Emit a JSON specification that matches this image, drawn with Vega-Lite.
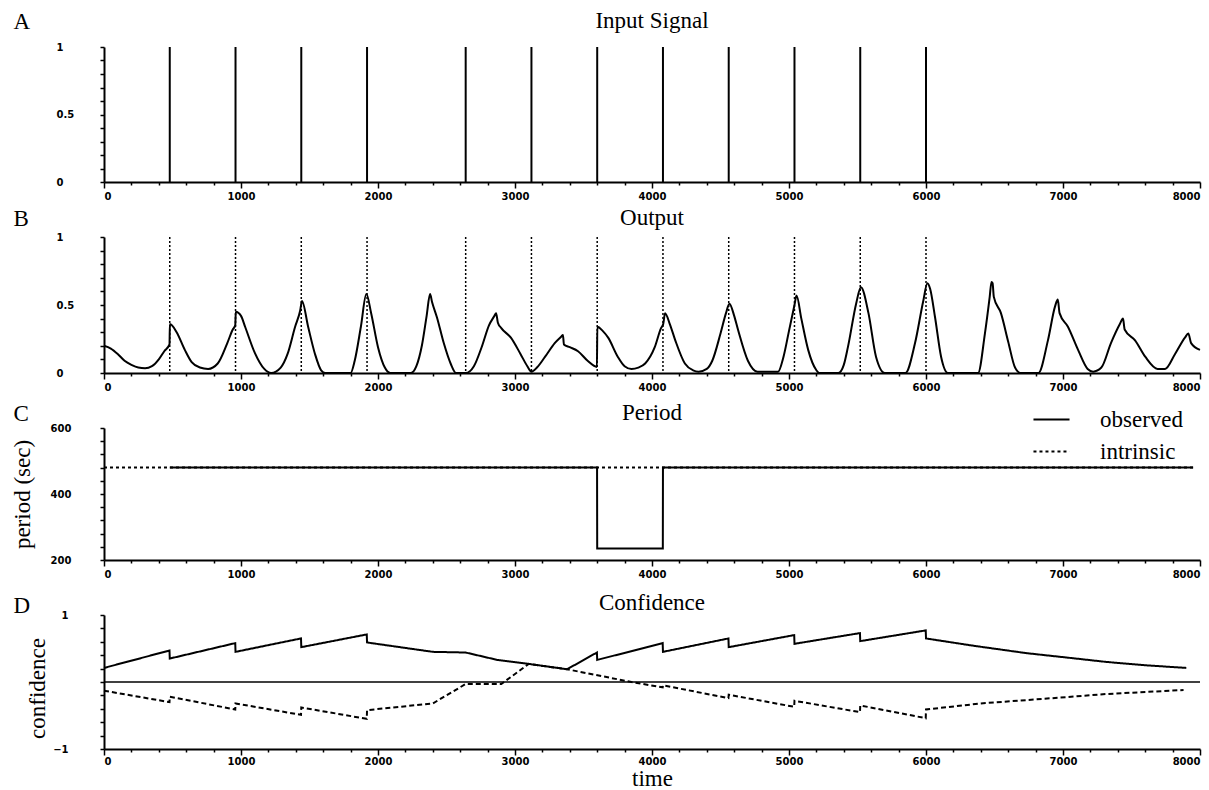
{
  "$schema": "https://vega.github.io/schema/vega-lite/v6.json",
  "background": "white",
  "padding": {"left": 11, "top": 10, "right": 5, "bottom": 0},
  "config": {
    "view": {"stroke": null},
    "axis": {
      "domainColor": "black", "domainWidth": 2, "tickColor": "black", "tickWidth": 1.5,
      "labelColor": "black", "labelFont": "DejaVu Sans", "labelFontSize": 10, "labelFontWeight": "bold",
      "titleFont": "Liberation Serif", "titleFontSize": 23, "titleFontWeight": "normal", "titleColor": "black",
      "grid": false
    },
    "title": {"font": "Liberation Serif", "fontSize": 23, "fontWeight": "normal", "color": "black", "anchor": "middle", "frame": "group", "baseline": "alphabetic"}
  },
  "datasets": {
    "input": [
      {"t": 480, "v": 1}, {"t": 960, "v": 1}, {"t": 1440, "v": 1}, {"t": 1920, "v": 1},
      {"t": 2640, "v": 1}, {"t": 3120, "v": 1}, {"t": 3600, "v": 1}, {"t": 4080, "v": 1},
      {"t": 4560, "v": 1}, {"t": 5040, "v": 1}, {"t": 5520, "v": 1}, {"t": 6000, "v": 1}
    ],
    "output": [
      {"t": 0, "v": 0.2}, {"t": 50, "v": 0.18}, {"t": 100, "v": 0.14}, {"t": 150, "v": 0.09}, {"t": 200, "v": 0.06},
      {"t": 250, "v": 0.04}, {"t": 300, "v": 0.035}, {"t": 350, "v": 0.05}, {"t": 400, "v": 0.1}, {"t": 440, "v": 0.16},
      {"t": 478, "v": 0.21}, {"t": 481, "v": 0.36}, {"t": 530, "v": 0.3}, {"t": 590, "v": 0.17}, {"t": 640, "v": 0.08},
      {"t": 700, "v": 0.04}, {"t": 760, "v": 0.03}, {"t": 830, "v": 0.07}, {"t": 900, "v": 0.22}, {"t": 940, "v": 0.32},
      {"t": 958, "v": 0.35}, {"t": 962, "v": 0.45}, {"t": 1000, "v": 0.42}, {"t": 1030, "v": 0.34}, {"t": 1100, "v": 0.15},
      {"t": 1170, "v": 0.03}, {"t": 1220, "v": 0.0}, {"t": 1290, "v": 0.04}, {"t": 1340, "v": 0.14}, {"t": 1395, "v": 0.34},
      {"t": 1432, "v": 0.46}, {"t": 1445, "v": 0.53}, {"t": 1490, "v": 0.34}, {"t": 1540, "v": 0.14}, {"t": 1585, "v": 0.02},
      {"t": 1615, "v": 0.0}, {"t": 1800, "v": 0.0}, {"t": 1830, "v": 0.09}, {"t": 1875, "v": 0.34}, {"t": 1915, "v": 0.58},
      {"t": 1950, "v": 0.44}, {"t": 2000, "v": 0.19}, {"t": 2050, "v": 0.04}, {"t": 2090, "v": 0.0}, {"t": 2240, "v": 0.0},
      {"t": 2280, "v": 0.05}, {"t": 2320, "v": 0.2}, {"t": 2355, "v": 0.42}, {"t": 2380, "v": 0.58}, {"t": 2395, "v": 0.52},
      {"t": 2430, "v": 0.41}, {"t": 2480, "v": 0.22}, {"t": 2530, "v": 0.07}, {"t": 2570, "v": 0.0}, {"t": 2640, "v": 0.0},
      {"t": 2700, "v": 0.05}, {"t": 2760, "v": 0.2}, {"t": 2810, "v": 0.35}, {"t": 2850, "v": 0.42}, {"t": 2862, "v": 0.44},
      {"t": 2875, "v": 0.37}, {"t": 2900, "v": 0.33}, {"t": 2970, "v": 0.26}, {"t": 3040, "v": 0.14}, {"t": 3090, "v": 0.05},
      {"t": 3120, "v": 0.01}, {"t": 3160, "v": 0.04}, {"t": 3220, "v": 0.12}, {"t": 3290, "v": 0.22}, {"t": 3340, "v": 0.27},
      {"t": 3350, "v": 0.28}, {"t": 3357, "v": 0.21}, {"t": 3400, "v": 0.19}, {"t": 3460, "v": 0.16}, {"t": 3530, "v": 0.09},
      {"t": 3598, "v": 0.045}, {"t": 3601, "v": 0.34}, {"t": 3640, "v": 0.31}, {"t": 3680, "v": 0.26}, {"t": 3750, "v": 0.12},
      {"t": 3800, "v": 0.05}, {"t": 3850, "v": 0.03}, {"t": 3900, "v": 0.04}, {"t": 3950, "v": 0.07}, {"t": 4020, "v": 0.19},
      {"t": 4066, "v": 0.33}, {"t": 4082, "v": 0.36}, {"t": 4095, "v": 0.44}, {"t": 4130, "v": 0.36}, {"t": 4170, "v": 0.24},
      {"t": 4240, "v": 0.07}, {"t": 4300, "v": 0.02}, {"t": 4340, "v": 0.01}, {"t": 4400, "v": 0.03}, {"t": 4440, "v": 0.09},
      {"t": 4500, "v": 0.29}, {"t": 4540, "v": 0.44}, {"t": 4565, "v": 0.51}, {"t": 4600, "v": 0.42}, {"t": 4630, "v": 0.31},
      {"t": 4700, "v": 0.09}, {"t": 4770, "v": 0.01}, {"t": 4920, "v": 0.01}, {"t": 4960, "v": 0.12}, {"t": 5000, "v": 0.31},
      {"t": 5040, "v": 0.5}, {"t": 5055, "v": 0.57}, {"t": 5090, "v": 0.4}, {"t": 5140, "v": 0.17}, {"t": 5200, "v": 0.02},
      {"t": 5220, "v": 0.0}, {"t": 5360, "v": 0.0}, {"t": 5400, "v": 0.06}, {"t": 5430, "v": 0.19}, {"t": 5490, "v": 0.51},
      {"t": 5525, "v": 0.63}, {"t": 5580, "v": 0.44}, {"t": 5635, "v": 0.12}, {"t": 5700, "v": 0.0}, {"t": 5850, "v": 0.0},
      {"t": 5920, "v": 0.22}, {"t": 5980, "v": 0.53}, {"t": 6010, "v": 0.66}, {"t": 6030, "v": 0.62}, {"t": 6066, "v": 0.41},
      {"t": 6110, "v": 0.12}, {"t": 6160, "v": 0.0}, {"t": 6380, "v": 0.0}, {"t": 6430, "v": 0.29}, {"t": 6465, "v": 0.56},
      {"t": 6478, "v": 0.67}, {"t": 6486, "v": 0.66}, {"t": 6495, "v": 0.56}, {"t": 6547, "v": 0.44}, {"t": 6600, "v": 0.23},
      {"t": 6650, "v": 0.04}, {"t": 6690, "v": 0.0}, {"t": 6820, "v": 0.0}, {"t": 6890, "v": 0.24}, {"t": 6942, "v": 0.49},
      {"t": 6962, "v": 0.54}, {"t": 6975, "v": 0.44}, {"t": 7036, "v": 0.34}, {"t": 7110, "v": 0.17}, {"t": 7180, "v": 0.03},
      {"t": 7220, "v": 0.01}, {"t": 7280, "v": 0.04}, {"t": 7350, "v": 0.22}, {"t": 7415, "v": 0.36}, {"t": 7438, "v": 0.4},
      {"t": 7450, "v": 0.32}, {"t": 7526, "v": 0.24}, {"t": 7600, "v": 0.12}, {"t": 7690, "v": 0.03}, {"t": 7745, "v": 0.03},
      {"t": 7818, "v": 0.14}, {"t": 7890, "v": 0.26}, {"t": 7915, "v": 0.29}, {"t": 7935, "v": 0.22}, {"t": 8000, "v": 0.17}
    ],
    "period": [
      {"t": 0, "p": 480, "series": "intrinsic"}, {"t": 7950, "p": 480, "series": "intrinsic"},
      {"t": 480, "p": 480, "series": "observed"}, {"t": 3599, "p": 480, "series": "observed"},
      {"t": 3600, "p": 235, "series": "observed"}, {"t": 4079, "p": 235, "series": "observed"},
      {"t": 4080, "p": 480, "series": "observed"}, {"t": 7950, "p": 480, "series": "observed"}
    ],
    "zero": [{"c": 0}],
    "confidence": [
      {"t": 0, "c": 0.21, "series": "observed"}, {"t": 478, "c": 0.47, "series": "observed"}, {"t": 480, "c": 0.35, "series": "observed"},
      {"t": 958, "c": 0.58, "series": "observed"}, {"t": 960, "c": 0.45, "series": "observed"}, {"t": 1438, "c": 0.65, "series": "observed"},
      {"t": 1440, "c": 0.52, "series": "observed"}, {"t": 1918, "c": 0.71, "series": "observed"}, {"t": 1920, "c": 0.59, "series": "observed"},
      {"t": 2400, "c": 0.45, "series": "observed"}, {"t": 2640, "c": 0.44, "series": "observed"}, {"t": 2870, "c": 0.33, "series": "observed"},
      {"t": 3100, "c": 0.27, "series": "observed"}, {"t": 3380, "c": 0.19, "series": "observed"}, {"t": 3598, "c": 0.44, "series": "observed"},
      {"t": 3600, "c": 0.33, "series": "observed"}, {"t": 4078, "c": 0.58, "series": "observed"}, {"t": 4080, "c": 0.45, "series": "observed"},
      {"t": 4558, "c": 0.65, "series": "observed"}, {"t": 4560, "c": 0.52, "series": "observed"}, {"t": 5038, "c": 0.7, "series": "observed"},
      {"t": 5040, "c": 0.57, "series": "observed"}, {"t": 5518, "c": 0.73, "series": "observed"}, {"t": 5520, "c": 0.61, "series": "observed"},
      {"t": 5998, "c": 0.77, "series": "observed"}, {"t": 6000, "c": 0.65, "series": "observed"}, {"t": 6350, "c": 0.54, "series": "observed"},
      {"t": 6736, "c": 0.43, "series": "observed"}, {"t": 7050, "c": 0.36, "series": "observed"}, {"t": 7314, "c": 0.3, "series": "observed"},
      {"t": 7600, "c": 0.25, "series": "observed"}, {"t": 7900, "c": 0.21, "series": "observed"},
      {"t": 0, "c": -0.13, "series": "intrinsic"}, {"t": 478, "c": -0.3, "series": "intrinsic"}, {"t": 480, "c": -0.22, "series": "intrinsic"},
      {"t": 958, "c": -0.41, "series": "intrinsic"}, {"t": 960, "c": -0.32, "series": "intrinsic"}, {"t": 1438, "c": -0.49, "series": "intrinsic"},
      {"t": 1440, "c": -0.38, "series": "intrinsic"}, {"t": 1918, "c": -0.55, "series": "intrinsic"}, {"t": 1920, "c": -0.42, "series": "intrinsic"},
      {"t": 2400, "c": -0.32, "series": "intrinsic"}, {"t": 2640, "c": -0.03, "series": "intrinsic"}, {"t": 2900, "c": -0.03, "series": "intrinsic"},
      {"t": 3100, "c": 0.27, "series": "intrinsic"}, {"t": 3380, "c": 0.19, "series": "intrinsic"}, {"t": 3850, "c": 0.0, "series": "intrinsic"},
      {"t": 4078, "c": -0.08, "series": "intrinsic"}, {"t": 4080, "c": -0.05, "series": "intrinsic"}, {"t": 4558, "c": -0.24, "series": "intrinsic"},
      {"t": 4560, "c": -0.19, "series": "intrinsic"}, {"t": 5038, "c": -0.37, "series": "intrinsic"}, {"t": 5040, "c": -0.28, "series": "intrinsic"},
      {"t": 5518, "c": -0.45, "series": "intrinsic"}, {"t": 5520, "c": -0.35, "series": "intrinsic"}, {"t": 5998, "c": -0.54, "series": "intrinsic"},
      {"t": 6000, "c": -0.41, "series": "intrinsic"}, {"t": 6400, "c": -0.32, "series": "intrinsic"}, {"t": 6736, "c": -0.27, "series": "intrinsic"},
      {"t": 7314, "c": -0.18, "series": "intrinsic"}, {"t": 7880, "c": -0.12, "series": "intrinsic"}
    ]
  },
  "bounds": "flush",
  "spacing": 55,
  "resolve": {"scale": {"strokeDash": "independent"}, "legend": {"strokeDash": "independent"}},
  "vconcat": [
    {
      "width": 1096, "height": 135,
      "title": {"text": "Input Signal", "offset": -23},
      "data": {"name": "input"},
      "mark": {"type": "rule", "color": "black", "strokeWidth": 2},
      "encoding": {
        "x": {"field": "t", "type": "quantitative", "scale": {"domain": [0, 8000], "nice": false, "zero": false},
          "axis": {"title": null, "values": [0,200,400,600,800,1000,1200,1400,1600,1800,2000,2200,2400,2600,2800,3000,3200,3400,3600,3800,4000,4200,4400,4600,4800,5000,5200,5400,5600,5800,6000,6200,6400,6600,6800,7000,7200,7400,7600,7800,8000],
            "format": "d", "labelExpr": "datum.value % 1000 === 0 ? datum.label : ''",
            "tickSize": {"condition": {"test": "datum.value % 1000 === 0", "value": 6}, "value": 3},
            "labelPadding": 3, "labelOverlap": false, "labelFlush": true}},
        "y": {"field": "v", "type": "quantitative", "scale": {"domain": [0, 1], "nice": false},
          "axis": {"values": [0,0.1,0.2,0.3,0.4,0.5,0.6,0.7,0.8,0.9,1], "format": "~g",
            "labelExpr": "datum.value === 0 || datum.value === 0.5 || datum.value === 1 ? datum.label : ''",
            "tickSize": 4, "labelAlign": "left", "labelPadding": 44, "labelOverlap": false,
            "title": "A", "titleAngle": 0, "titleAlign": "left", "titleBaseline": "alphabetic", "titleX": -91, "titleY": -19}},
        "y2": {"datum": 0}
      }
    },
    {
      "width": 1096, "height": 136,
      "title": {"text": "Output", "offset": -23},
      "encoding": {
        "x": {"field": "t", "type": "quantitative", "scale": {"domain": [0, 8000], "nice": false, "zero": false},
          "axis": {"values": [0,200,400,600,800,1000,1200,1400,1600,1800,2000,2200,2400,2600,2800,3000,3200,3400,3600,3800,4000,4200,4400,4600,4800,5000,5200,5400,5600,5800,6000,6200,6400,6600,6800,7000,7200,7400,7600,7800,8000],
            "format": "d", "labelExpr": "datum.value % 1000 === 0 ? datum.label : ''",
            "tickSize": {"condition": {"test": "datum.value % 1000 === 0", "value": 6}, "value": 3},
            "labelPadding": 3, "labelOverlap": false, "labelFlush": true,
            "title": "C", "titleAngle": 0, "titleAlign": "left", "titleBaseline": "alphabetic", "titleX": -91, "titleY": 47}},
        "y": {"field": "v", "type": "quantitative", "scale": {"domain": [0, 1], "nice": false},
          "axis": {"values": [0,0.1,0.2,0.3,0.4,0.5,0.6,0.7,0.8,0.9,1], "format": "~g",
            "labelExpr": "datum.value === 0 || datum.value === 0.5 || datum.value === 1 ? datum.label : ''",
            "tickSize": 4, "labelAlign": "left", "labelPadding": 44, "labelOverlap": false,
            "title": "B", "titleAngle": 0, "titleAlign": "left", "titleBaseline": "alphabetic", "titleX": -91, "titleY": -12}}
      },
      "layer": [
        {
          "data": {"name": "input"},
          "mark": {"type": "rule", "color": "black", "strokeWidth": 1.5, "strokeDash": [2, 2]},
          "encoding": {"y2": {"datum": 0}}
        },
        {
          "data": {"name": "output"},
          "mark": {"type": "line", "color": "black", "strokeWidth": 2, "interpolate": "monotone"}
        }
      ]
    },
    {
      "width": 1096, "height": 132,
      "title": {"text": "Period", "offset": -25},
      "data": {"name": "period"},
      "mark": {"type": "line", "color": "black", "strokeWidth": 2},
      "encoding": {
        "x": {"field": "t", "type": "quantitative", "scale": {"domain": [0, 8000], "nice": false, "zero": false},
          "axis": {"values": [0,200,400,600,800,1000,1200,1400,1600,1800,2000,2200,2400,2600,2800,3000,3200,3400,3600,3800,4000,4200,4400,4600,4800,5000,5200,5400,5600,5800,6000,6200,6400,6600,6800,7000,7200,7400,7600,7800,8000],
            "format": "d", "labelExpr": "datum.value % 1000 === 0 ? datum.label : ''",
            "tickSize": {"condition": {"test": "datum.value % 1000 === 0", "value": 6}, "value": 3},
            "labelPadding": 3, "labelOverlap": false, "labelFlush": true,
            "title": "D", "titleAngle": 0, "titleAlign": "left", "titleBaseline": "alphabetic", "titleX": -91, "titleY": 52}},
        "y": {"field": "p", "type": "quantitative", "scale": {"domain": [200, 600], "nice": false, "zero": false},
          "axis": {"values": [200,240,280,320,360,400,440,480,520,560,600], "format": "d",
            "labelExpr": "datum.value === 200 || datum.value === 400 || datum.value === 600 ? datum.label : ''",
            "tickSize": 4, "labelAlign": "left", "labelPadding": 50, "labelOverlap": false,
            "title": "period (sec)", "titleBaseline": "alphabetic", "titleX": -75}},
        "strokeDash": {"field": "series", "type": "nominal",
          "scale": {"domain": ["observed", "intrinsic"], "range": [[1, 0], [3, 3]]},
          "legend": {"orient": "none", "legendX": 928, "legendY": -28, "title": null, "padding": 0,
            "symbolType": "stroke", "symbolSize": 1300, "symbolStrokeWidth": 2, "symbolStrokeColor": "black",
            "labelFont": "Liberation Serif", "labelFontSize": 23, "labelColor": "black", "labelOffset": 29, "rowPadding": -2}},
        "order": {"field": "t", "type": "quantitative"}
      }
    },
    {
      "width": 1096, "height": 134,
      "title": {"text": "Confidence", "offset": -5},
      "layer": [
        {
          "data": {"name": "zero"},
          "mark": {"type": "rule", "color": "black", "strokeWidth": 1.5},
          "encoding": {
            "y": {"field": "c", "type": "quantitative", "scale": {"domain": [-1, 1], "nice": false, "zero": false},
              "axis": {"values": [-1,-0.8,-0.6,-0.4,-0.2,0,0.2,0.4,0.6,0.8,1], "format": "~g",
                "labelExpr": "datum.value === 1 || datum.value === -1 ? datum.label : ''",
                "tickSize": 4, "labelAlign": "right", "labelPadding": 32, "labelOverlap": false,
                "title": "confidence", "titleBaseline": "alphabetic", "titleX": -60, "titleY": 73}}
          }
        },
        {
          "data": {"name": "confidence"},
          "mark": {"type": "line", "color": "black", "strokeWidth": 2},
          "encoding": {
            "x": {"field": "t", "type": "quantitative", "scale": {"domain": [0, 8000], "nice": false, "zero": false},
              "axis": {"values": [0,200,400,600,800,1000,1200,1400,1600,1800,2000,2200,2400,2600,2800,3000,3200,3400,3600,3800,4000,4200,4400,4600,4800,5000,5200,5400,5600,5800,6000,6200,6400,6600,6800,7000,7200,7400,7600,7800,8000],
                "format": "d", "labelExpr": "datum.value % 1000 === 0 ? datum.label : ''",
                "tickSize": {"condition": {"test": "datum.value % 1000 === 0", "value": 6}, "value": 3},
                "labelPadding": 1, "labelOverlap": false, "labelFlush": true,
                "title": "time", "titleBaseline": "alphabetic", "titleY": 36}},
            "y": {"field": "c", "type": "quantitative", "scale": {"domain": [-1, 1], "nice": false, "zero": false},
              "axis": {"values": [-1,-0.8,-0.6,-0.4,-0.2,0,0.2,0.4,0.6,0.8,1], "format": "~g",
                "labelExpr": "datum.value === 1 || datum.value === -1 ? datum.label : ''",
                "tickSize": 4, "labelAlign": "right", "labelPadding": 32, "labelOverlap": false,
                "title": "confidence", "titleBaseline": "alphabetic", "titleX": -60, "titleY": 73}},
            "strokeDash": {"field": "series", "type": "nominal",
              "scale": {"domain": ["observed", "intrinsic"], "range": [[1, 0], [5, 3]]}, "legend": null}
          }
        }
      ]
    }
  ]
}
